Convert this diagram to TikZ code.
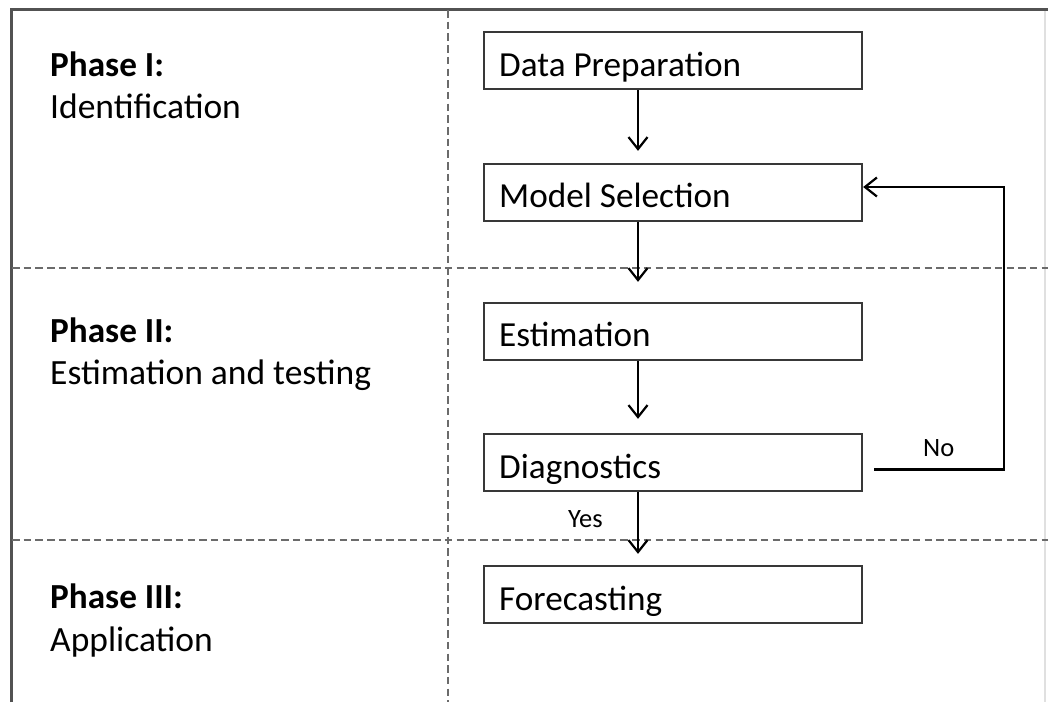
\documentclass[tikz,border=0pt]{standalone}
\usepackage{fontspec}
\setmainfont{Carlito}
\usetikzlibrary{arrows.meta}
\tikzset{
  stepbox/.style={draw=black!78, line width=2.3pt, rectangle, minimum width=378pt, minimum height=57pt, inner sep=0pt},
  boxtext/.style={anchor=base west, inner sep=0pt, font=\fontsize{35.2}{40}\selectfont},
  phasehead/.style={anchor=base west, inner sep=0pt, font=\fontsize{35.2}{40}\selectfont\bfseries},
  phasetext/.style={anchor=base west, inner sep=0pt, font=\fontsize{35.5}{40}\selectfont},
  small/.style={anchor=base west, inner sep=0pt, font=\fontsize{26.5}{30}\selectfont},
  arr/.style={draw=black, line width=2.2pt, -{Straight Barb[length=12pt,width=19pt,line width=2.2pt]}},
  divider/.style={draw=black!58, line width=2pt, dash pattern=on 7.5pt off 4.2pt},
  frame/.style={draw=black!68, line width=2.2pt}
}
\begin{document}
\begin{tikzpicture}[x=1pt,y=-1pt]
\useasboundingbox (0,0) rectangle (1048,702);
\fill[white] (0,0) rectangle (1048,702);
% frame
\coordinate (fbl) at (11.5,702);
\coordinate (ftl) at (11.5,9.5);
\coordinate (ftr) at (1048,9.5);
\coordinate (frt) at (1045,11);
\coordinate (frb) at (1045,702);
\draw[frame] (fbl) -- (ftl) -- (ftr);
\draw[draw=black!12, line width=2pt] (frt) -- (frb);
% dividers
\coordinate (vt) at (448,10);
\coordinate (vb) at (448,702);
\coordinate (h1l) at (12,268);
\coordinate (h1r) at (1048,268);
\coordinate (h2l) at (12,540);
\coordinate (h2r) at (1048,540);
\draw[divider] (vt) -- (vb);
\draw[divider] (h1l) -- (h1r);
\draw[divider] (h2l) -- (h2r);
% phase labels
\node[phasehead] (p1h) at (50,76) {Phase I:};
\node[phasetext] (p1t) at (50,118) {Identification};
\node[phasehead] (p2h) at (50,342) {Phase II:};
\node[phasetext] (p2t) at (50,384) {Estimation and testing};
\node[phasehead] (p3h) at (50,608) {Phase III:};
\node[phasetext] (p3t) at (50,651) {Application};
% boxes
\node[stepbox] (dp) at (673,60.5) {};
\node[stepbox] (ms) at (673,192.5) {};
\node[stepbox] (es) at (673,331.5) {};
\node[stepbox] (dg) at (673,462.5) {};
\node[stepbox] (fc) at (673,594.5) {};
\node[boxtext] (dpt) at (499,76) {Data Preparation};
\node[boxtext] (mst) at (499,207) {Model Selection};
\node[boxtext] (est) at (499,346) {Estimation};
\node[boxtext] (dgt) at (499,478) {Diagnostics};
\node[boxtext] (fct) at (499,610) {Forecasting};
% arrows
\coordinate (ax) at (638,0);
\draw[arr] (dp.south -| ax) -- ([yshift=12pt]ms.north -| ax);
\draw[arr] (ms.south -| ax) -- ([yshift=20pt]es.north -| ax);
\draw[arr] (es.south -| ax) -- ([yshift=14pt]dg.north -| ax);
\draw[arr] (dg.south -| ax) -- ([yshift=11pt]fc.north -| ax);
\draw[arr] ([xshift=11pt,yshift=-7pt]dg.east) -- ++(130,0) |- ([yshift=5.5pt]ms.east);
% labels
\node[small] (yes) at (568,527) {Yes};
\node[small] (no) at (923,456) {No};
\end{tikzpicture}
\end{document}
